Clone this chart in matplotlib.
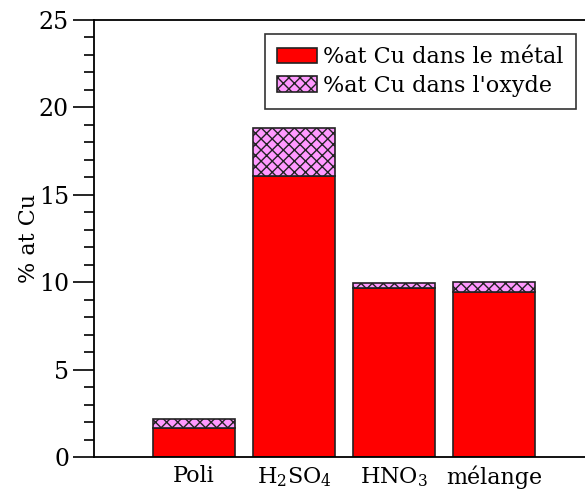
import numpy as np
import matplotlib
matplotlib.use('Agg')
import matplotlib.pyplot as plt
from matplotlib.ticker import MultipleLocator

plt.rcParams['font.family'] = 'DejaVu Serif'
plt.rcParams['mathtext.default'] = 'regular'
plt.rcParams['hatch.color'] = 'blue'
plt.rcParams['hatch.linewidth'] = 1.0

# donnees
categories = ['Poli', 'H$_2$SO$_4$', 'HNO$_3$', 'mélange']
cu_metal = [1.64, 16.07, 9.67, 9.44]
cu_oxyde = [0.52, 2.75, 0.28, 0.57]

fig = plt.figure(figsize=(5.85, 4.92), dpi=100)
ax = fig.add_axes([94 / 585, 35 / 492, 500 / 585, 437 / 492])

x = np.arange(1, len(categories) + 1)
ax.bar(x, cu_metal, width=0.82, color='#ff0000', edgecolor='#222222', linewidth=1.2,
       label='%at Cu dans le métal')
ax.bar(x, cu_oxyde, width=0.82, bottom=cu_metal, color='#ff99ff', edgecolor='#222222',
       linewidth=1.2, hatch='xxx', label="%at Cu dans l'oxyde")

ax.set_xlim(0, 5.0)
ax.set_ylim(0, 25)
ax.set_xticks(x)
ax.set_xticklabels(categories, fontsize=16)
ax.tick_params(axis='x', length=0, pad=6)
ax.yaxis.set_major_locator(MultipleLocator(5))
ax.yaxis.set_minor_locator(MultipleLocator(1))
ax.tick_params(axis='y', which='major', length=15, width=1.2, labelsize=17, direction='out', pad=3)
ax.tick_params(axis='y', which='minor', length=7, width=1.2, direction='out')
ax.set_ylabel('% at Cu', fontsize=16, labelpad=-1)
for s in ax.spines.values():
    s.set_linewidth(1.3)
ax.spines['right'].set_visible(False)

leg = ax.legend(loc='upper right', bbox_to_anchor=(0.964, 0.968), borderaxespad=0, fontsize=16,
                fancybox=False, edgecolor='#333333', handlelength=1.8, handletextpad=0.3,
                borderpad=0.55, labelspacing=0.3, framealpha=1)
leg.get_frame().set_linewidth(1.2)

plt.savefig('out.png', dpi=100)
